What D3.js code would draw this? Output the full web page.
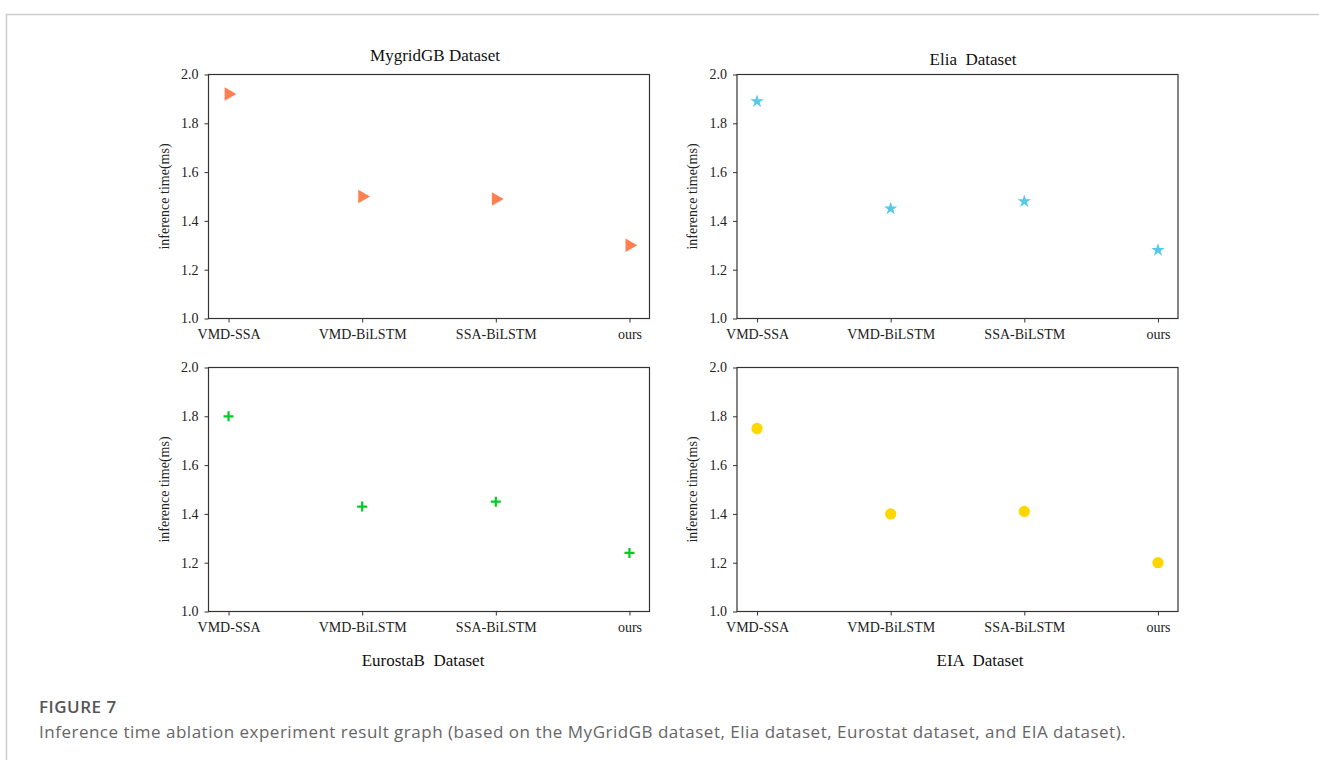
<!DOCTYPE html>
<html>
<head>
<meta charset="utf-8">
<script src="https://cdn.jsdelivr.net/npm/d3@7"></script>
<style>
  body { margin: 0; background: #fff; }
  svg { display: block; }
</style>
</head>
<body>
<main></main>
<script>
const categories = ['VMD-SSA', 'VMD-BiLSTM', 'SSA-BiLSTM', 'ours'];
const mygridValues = [1.92, 1.50, 1.49, 1.30];
const eliaValues = [1.89, 1.45, 1.48, 1.28];
const eurostatValues = [1.80, 1.43, 1.45, 1.24];
const eiaValues = [1.75, 1.40, 1.41, 1.20];
const yTicks = [1.0, 1.2, 1.4, 1.6, 1.8, 2.0];
const yLabel = 'inference time(ms)';
const figureLabel = 'FIGURE 7';
const caption = 'Inference time ablation experiment result graph (based on the MyGridGB dataset, Elia dataset, Eurostat dataset, and EIA dataset).';

const width = 1319;
const height = 760;
const serif = "'Liberation Serif', 'Times New Roman', serif";

const panels = [
  { title: 'MygridGB Dataset', values: mygridValues, x: 208.5, y: 74.5, titleX: 435, titleY: 61, symbol: 'triangle', color: '#ff7f50' },
  { title: 'Elia  Dataset', values: eliaValues, x: 737, y: 74.5, titleX: 973, titleY: 65, symbol: 'star', color: '#56c8ea' },
  { title: 'EurostaB  Dataset', values: eurostatValues, x: 208.5, y: 367.5, titleX: 423, titleY: 666, symbol: 'plus', color: '#00cc22' },
  { title: 'EIA  Dataset', values: eiaValues, x: 737, y: 367.5, titleX: 980, titleY: 666, symbol: 'circle', color: '#ffd700' }
];
const plotW = 441;
const plotH = 244;

const svg = d3.select('main')
  .append('svg')
  .attr('width', width)
  .attr('height', height)

// Frame
svg.append('path')
  .attr('d', `M6.5,${height} L6.5,14.5 L${width},14.5`)
  .style('fill', 'none')
  .style('stroke', '#cccccc')
  .style('stroke-width', 1.5)

const xScale = d3.scalePoint()
  .domain(categories)
  .range([0, plotW])
  .padding(0.15)

const yScale = d3.scaleLinear()
  .domain([1.0, 2.0])
  .range([plotH, 0])

panels.forEach(p => {
  const g = svg.append('g')
    .attr('transform', `translate(${p.x}, ${p.y})`)

  // x-axis
  const xAxis = g.append('g')
    .attr('transform', `translate(0, ${plotH})`)
    .call(d3.axisBottom(xScale).tickSize(4).tickPadding(7).tickSizeOuter(0))
  xAxis.select('.domain').remove()

  // y-axis
  const yAxis = g.append('g')
    .call(d3.axisLeft(yScale).tickValues(yTicks).tickFormat(d3.format('.1f')).tickSize(4).tickPadding(6).tickSizeOuter(0))
  yAxis.select('.domain').remove()

  g.selectAll('.tick text')
    .style('font-family', serif)
    .style('font-size', '14px')
    .style('fill', '#222')
  g.selectAll('.tick line')
    .style('stroke', '#333')

  // box
  g.append('rect')
    .attr('width', plotW)
    .attr('height', plotH)
    .style('fill', 'none')
    .style('stroke', '#333')
    .style('stroke-width', 1.2)

  // y label
  g.append('text')
    .text(yLabel)
    .attr('transform', `translate(-40, ${plotH / 2}) rotate(-90)`)
    .style('text-anchor', 'middle')
    .style('font-family', serif)
    .style('font-size', '14px')
    .style('fill', '#222')

  // title
  svg.append('text')
    .text(p.title)
    .attr('x', p.titleX)
    .attr('y', p.titleY)
    .style('text-anchor', 'middle')
    .style('white-space', 'pre')
    .style('font-family', serif)
    .style('font-size', '17px')
    .style('fill', '#111')

  // points
  const pts = g.selectAll('.pt')
    .data(p.values.map((v, i) => ({ cat: categories[i], v })))
    .enter()
    .append('path')
    .attr('class', 'pt')

  if (p.symbol === 'triangle') {
    pts.attr('d', d3.symbol(d3.symbolTriangle, 80))
      .attr('transform', d => `translate(${xScale(d.cat)}, ${yScale(d.v)}) rotate(90)`)
      .style('fill', p.color)
  } else if (p.symbol === 'star') {
    pts.attr('d', d3.symbol(d3.symbolStar, 55))
      .attr('transform', d => `translate(${xScale(d.cat)}, ${yScale(d.v)})`)
      .style('fill', p.color)
  } else if (p.symbol === 'plus') {
    pts.attr('d', 'M-5,0H5M0,-5V5')
      .attr('transform', d => `translate(${xScale(d.cat)}, ${yScale(d.v)})`)
      .style('fill', 'none')
      .style('stroke', p.color)
      .style('stroke-width', 2.2)
  } else {
    pts.attr('d', d3.symbol(d3.symbolCircle, 100))
      .attr('transform', d => `translate(${xScale(d.cat)}, ${yScale(d.v)})`)
      .style('fill', p.color)
  }
})

// Caption
svg.append('text')
  .text(figureLabel)
  .attr('x', 39)
  .attr('y', 713)
  .style('font-family', "'Open Sans', sans-serif")
  .style('font-weight', 600)
  .style('font-size', '17px')
  .style('letter-spacing', '0.5px')
  .style('fill', '#555')

svg.append('text')
  .text(caption)
  .attr('x', 39)
  .attr('y', 738)
  .style('font-family', "'Open Sans', sans-serif")
  .style('font-size', '17px')
  .style('letter-spacing', '0.5px')
  .style('fill', '#666')
</script>
</body>
</html>
